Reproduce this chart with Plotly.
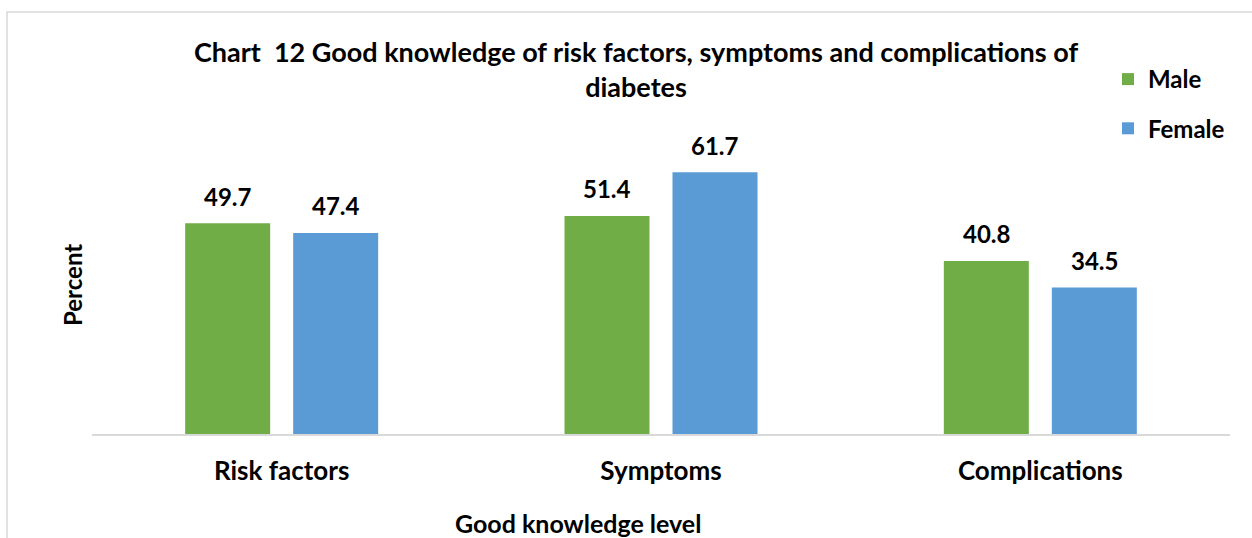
import plotly.graph_objects as go

# Data
categories = ["Risk factors", "Symptoms", "Complications"]
male = [49.7, 51.4, 40.8]
female = [47.4, 61.7, 34.5]
series_names = ["Male", "Female"]

GREEN = "#70AD47"
BLUE = "#5B9BD5"
GRID = "#D9D9D9"
FONT = "Lato"

W, H = 1252, 538
ML, MR, MT, MB = 92, 22, 137, 104
PW, PH = W - ML - MR, H - MT - MB


def px_x(p):
    return (p - ML) / PW


def px_y(p):
    return (H - MB - p) / PH


# bar geometry in category units
bar_w = 85 / PW * 3
male_off = -96.5 / PW * 3
female_off = 11.5 / PW * 3

fig = go.Figure()
for name, vals, col, off, grp in [
    (series_names[0], male, GREEN, male_off, "m"),
    (series_names[1], female, BLUE, female_off, "f"),
]:
    fig.add_trace(go.Bar(
        name=f"<b>{name}</b>", x=categories, y=vals, marker_color=col,
        marker_line_width=0, width=bar_w, offset=off, legendgroup=grp,
    ))
    for i, v in enumerate(vals):
        fig.add_annotation(
            x=i + off + bar_w / 2, y=v, xref="x", yref="y",
            text=f"<b>{v}</b>", showarrow=False, yanchor="middle",
            yshift=27, font=dict(family=FONT, size=24, color="#000"),
        )

fig.add_annotation(
    x=px_x(578), y=px_y(523), xref="paper", yref="paper",
    xanchor="center", yanchor="middle",
    text="<b>Good knowledge level</b>", showarrow=False,
    font=dict(family=FONT, size=25, color="#000"),
)
fig.add_annotation(
    x=px_x(72), y=px_y(285), xref="paper", yref="paper",
    xanchor="center", yanchor="middle",
    text="<b>Percent</b>", showarrow=False, textangle=-90,
    font=dict(family=FONT, size=24, color="#000"),
)

# chart border
fig.add_shape(
    type="rect", xref="paper", yref="paper",
    x0=px_x(7), x1=px_x(1300), y0=px_y(600), y1=px_y(12),
    line=dict(color=GRID, width=1.5), layer="below",
)

fig.update_layout(
    width=W, height=H,
    margin=dict(l=ML, r=MR, t=MT, b=MB),
    paper_bgcolor="white", plot_bgcolor="white",
    title=dict(
        text="<b>Chart \u00a012 Good knowledge of risk factors, symptoms and complications of<br>diabetes</b>",
        x=636 / W, xanchor="center", y=1 - 61.5 / H, yanchor="middle",
        font=dict(family=FONT, size=27, color="#000"),
    ),
    legend=dict(
        x=px_x(1108), y=px_y(57), xanchor="left", yanchor="top",
        font=dict(family=FONT, size=24, color="#000"),
        bgcolor="rgba(0,0,0,0)", tracegroupgap=15,
    ),
    showlegend=True,
    xaxis=dict(
        showline=True, linecolor=GRID, linewidth=1.5,
        ticks="outside", ticklen=13, tickcolor="rgba(0,0,0,0)",
        tickfont=dict(family=FONT, size=26, color="#000"),
        tickprefix="<b>", ticksuffix="</b>", showgrid=False,
    ),
    yaxis=dict(
        range=[0, 70], showticklabels=False, showgrid=False,
        zeroline=False, showline=False, ticks="",
    ),
)

fig.write_html("out.html")
